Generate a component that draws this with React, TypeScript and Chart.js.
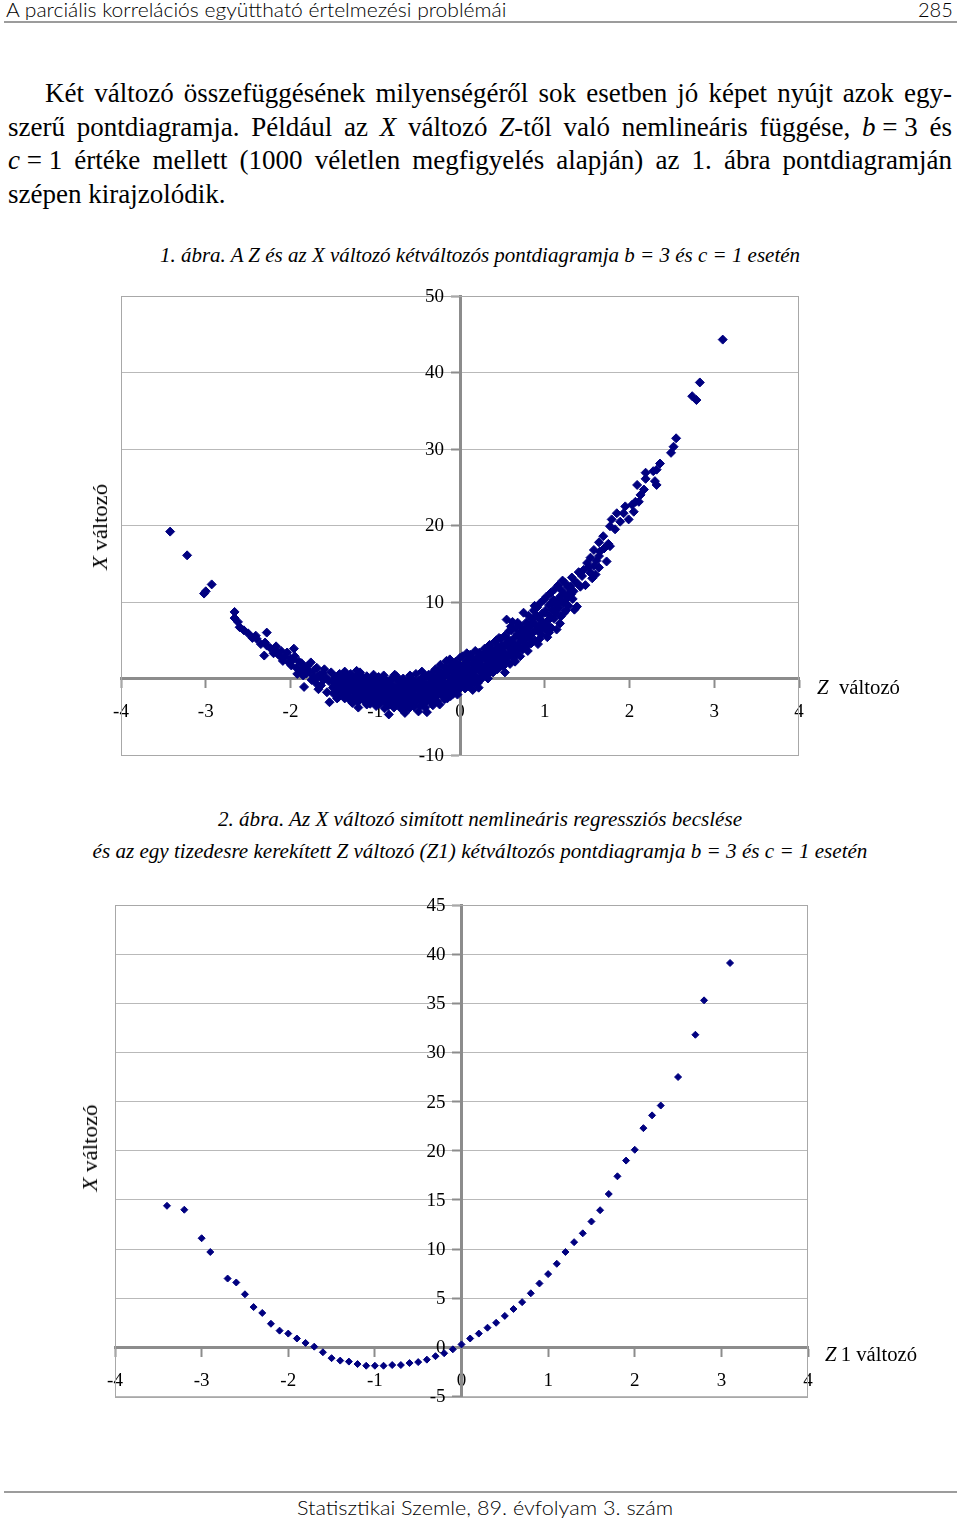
import React, { useEffect, useLayoutEffect, useRef } from "react";
import { Chart, registerables } from "chart.js";

Chart.register(...registerables);
Chart.defaults.font.family = "'Liberation Serif', 'Times New Roman', serif";

type Pt = [number, number];

// ---------- Figure 1: Z (horizontal) vs X (vertical), 1000 noisy observations ----------
const fig1LeftTail: Pt[] = [
  [-3.42, 19.2], [-3.22, 16.1], [-3.02, 11.1], [-3.0, 11.4], [-2.93, 12.3],
  [-2.66, 8.7], [-2.66, 7.9], [-2.62, 7.4], [-2.6, 6.7], [-2.55, 6.3],
  [-2.5, 5.9], [-2.45, 5.3], [-2.41, 5.6], [-2.4, 5.2], [-2.35, 4.5],
  [-2.3, 4.7], [-2.31, 3.0], [-2.28, 6.0], [-2.28, 4.3], [-2.24, 4.0],
  [-2.2, 3.3], [-2.17, 4.2], [-2.17, 3.6], [-2.14, 3.1], [-2.12, 2.9],
  [-2.09, 2.3], [-2.07, 2.8], [-2.04, 3.4], [-2.02, 2.1], [-1.99, 1.7],
  [-1.97, 2.5], [-1.96, 3.9], [-1.95, 2.9], [-1.93, 1.4], [-1.9, 2.2],
  [-1.88, 1.1], [-1.87, 2.0], [-1.85, 0.4], [-1.84, -1.1], [-1.81, 0.7],
  [-1.8, 1.6], [-1.78, 0.9], [-1.76, 2.1], [-1.75, -0.2], [-1.73, 0.3],
  [-1.72, 1.1], [-1.7, -0.6], [-1.69, 1.4], [-1.67, -1.4], [-1.66, 0.5],
  [-1.64, -0.9], [-1.62, 0.7], [-1.6, 1.2], [-1.58, 0.1], [-1.57, -1.8],
  [-1.55, -0.3], [-1.54, -3.1], [-1.52, 0.8], [-1.61, -0.2], [-1.68, 0.2],
  [-1.83, 1.4], [-1.92, 0.6], [-2.0, 2.6], [-2.11, 3.6],
];

const fig1Trough: Pt[] = [
  [-1.5, -1.2], [-1.5, -0.4], [-1.49, -2.0], [-1.48, -0.6], [-1.48, -1.1],
  [-1.47, 0.2], [-1.46, -1.5], [-1.45, -0.9], [-1.44, 0.3], [-1.44, -0.3],
  [-1.43, -2.4], [-1.42, 0.6], [-1.41, -0.2], [-1.4, -1.4], [-1.39, -1.8],
  [-1.38, -0.7], [-1.37, 0.4], [-1.36, -2.6], [-1.36, 0.9], [-1.35, -1.2],
  [-1.34, 0.5], [-1.34, -1.6], [-1.33, -0.1], [-1.32, -2.0], [-1.31, -0.9],
  [-1.3, 0.1], [-1.3, -2.8], [-1.29, 0.6], [-1.28, -1.5], [-1.27, -0.4],
  [-1.26, -2.7], [-1.26, -0.1], [-1.25, -2.3], [-1.24, -1.0], [-1.23, 0.2],
  [-1.22, 1.0], [-1.22, -2.6], [-1.21, -1.9], [-1.2, -0.6], [-1.2, -3.8],
  [-1.19, -2.9], [-1.18, -1.3], [-1.18, 0.8], [-1.17, 0.4], [-1.16, -2.2],
  [-1.15, -0.3], [-1.14, -1.4], [-1.14, -2.0], [-1.13, -1.7], [-1.12, -3.0],
  [-1.12, -0.5], [-1.11, -0.8], [-1.1, 0.3], [-1.1, -3.4], [-1.09, -2.5],
  [-1.08, -1.2], [-1.07, -0.2], [-1.06, -3.3], [-1.05, -1.8], [-1.05, 0.0],
  [-1.04, -0.6], [-1.03, -2.7], [-1.02, 0.5], [-1.01, -1.4], [-1.0, -2.2],
  [-1.0, -0.4], [-0.99, -3.6], [-0.98, -1.0], [-0.97, -2.9], [-0.96, 0.2],
  [-0.95, -1.9], [-0.95, -2.5], [-0.94, -3.2], [-0.93, -0.7], [-0.92, -2.4],
  [-0.92, -0.1], [-0.91, -1.4], [-0.9, 0.4], [-0.89, -3.9], [-0.88, -2.0],
  [-0.88, -3.0], [-0.87, -0.3], [-0.86, -2.8], [-0.85, -1.2], [-0.84, -4.7],
  [-0.83, -0.9], [-0.82, -3.4], [-0.81, -1.7], [-0.8, 0.1], [-0.8, -1.3],
  [-0.79, -2.5], [-0.78, -3.8], [-0.77, -1.1], [-0.77, 0.5], [-0.76, -2.1],
  [-0.75, 0.3], [-0.74, -3.0], [-0.73, -1.5], [-0.72, -0.5], [-0.72, -3.2],
  [-0.71, -2.6], [-0.7, -3.6], [-0.69, -1.0], [-0.69, -4.0], [-0.68, -2.2],
  [-0.67, 0.0], [-0.66, -1.8], [-0.65, -4.5], [-0.64, -2.9], [-0.64, -1.0],
  [-0.63, -0.8], [-0.62, -3.3], [-0.61, -1.4], [-0.6, -2.4], [-0.6, -3.9],
  [-0.59, 0.4], [-0.58, -1.1], [-0.57, -3.0], [-0.56, -0.2], [-0.56, -2.8],
  [-0.55, -2.0], [-0.54, -3.7], [-0.53, -1.3], [-0.52, 0.6], [-0.51, -2.6],
  [-0.5, -0.7],
  [-1.49, -0.9], [-1.47, -1.7], [-1.45, -2.6], [-1.42, -1.3], [-1.4, -0.5],
  [-1.38, -2.2], [-1.35, -0.4], [-1.33, -1.5], [-1.31, -2.4], [-1.29, -1.1],
  [-1.27, -3.2], [-1.25, -0.8], [-1.23, -1.6], [-1.21, -3.0], [-1.19, -0.1],
  [-1.17, -2.5], [-1.15, -1.0], [-1.13, -2.4], [-1.11, -1.5], [-1.09, -0.3],
  [-1.07, -2.1], [-1.05, -2.9], [-1.03, -1.0], [-1.01, -3.1], [-0.99, -0.5],
  [-0.97, -1.5], [-0.96, -3.3], [-0.94, -1.1], [-0.93, -2.0], [-0.91, -2.9],
  [-0.9, -0.9], [-0.89, -1.6], [-0.87, -2.4], [-0.86, -0.7], [-0.85, -3.6],
  [-0.83, -1.9], [-0.82, -0.4], [-0.81, -2.9], [-0.79, -1.0], [-0.78, -2.0],
  [-0.76, -3.3], [-0.75, -1.3], [-0.74, -0.2], [-0.73, -2.4], [-0.71, -0.9],
  [-0.7, -1.8], [-0.68, -3.1], [-0.67, -1.4], [-0.66, -0.5], [-0.65, -2.5],
  [-0.63, -3.7], [-0.62, -1.8], [-0.61, -0.3], [-0.59, -2.2], [-0.58, -3.4],
  [-0.57, -0.9], [-0.55, -1.5], [-0.54, -0.4], [-0.53, -2.3], [-0.52, -3.1],
  [-0.51, -1.1],
];

const fig1Center: Pt[] = [
  [-0.49, -4.3], [-0.48, -1.6], [-0.47, -0.3], [-0.46, -2.7], [-0.45, 0.9],
  [-0.45, -1.9], [-0.44, -1.2], [-0.43, -3.3], [-0.42, -0.6], [-0.41, -2.1],
  [-0.4, 0.3], [-0.4, -3.0], [-0.39, -4.4], [-0.38, -1.5], [-0.37, -2.8],
  [-0.36, 0.0], [-0.35, -0.9], [-0.35, -1.7], [-0.34, -2.3], [-0.33, 0.7],
  [-0.33, -0.4], [-0.32, -3.5], [-0.31, -1.3], [-0.3, -0.2], [-0.3, -2.7],
  [-0.29, 1.2], [-0.28, -2.4], [-0.27, -0.7], [-0.26, -1.8], [-0.26, 1.0],
  [-0.25, 0.5], [-0.24, -3.4], [-0.23, 1.8], [-0.22, -1.0], [-0.21, -2.2],
  [-0.21, -0.3], [-0.2, 0.1], [-0.19, -0.5], [-0.19, -1.3], [-0.18, 1.4],
  [-0.17, -1.6], [-0.16, 2.3], [-0.15, -2.6], [-0.15, 1.0], [-0.14, 0.3],
  [-0.13, -0.9], [-0.12, 2.5], [-0.11, -1.8], [-0.11, -2.3], [-0.1, 0.9],
  [-0.09, -0.3], [-0.08, 1.7], [-0.07, -1.2], [-0.06, 0.5], [-0.06, -0.9],
  [-0.05, 2.2], [-0.04, -0.6], [-0.03, 1.3], [-0.02, -1.5], [-0.02, 1.0],
  [-0.01, 0.2], [0.0, 2.7], [0.01, -1.0], [0.02, 0.6], [0.03, 2.9],
  [0.04, -0.3], [0.05, 1.5], [0.05, -0.9], [0.06, -1.3], [0.07, 0.9],
  [0.08, 2.3], [0.08, 3.3], [0.09, -0.5], [0.1, 1.8], [0.11, 0.2],
  [0.12, 3.1], [0.12, 0.0], [0.13, -0.8], [0.14, 1.2], [0.15, 2.6],
  [0.15, -1.5], [0.16, 0.5], [0.17, -0.6], [0.18, 3.6], [0.19, 1.6],
  [0.19, -0.4], [0.2, 0.0], [0.21, 2.2], [0.22, 1.0], [0.22, -1.2],
  [0.23, 3.4], [0.24, -0.2], [0.25, 1.9], [0.26, 0.8], [0.26, 0.3],
  [0.27, 2.9], [0.28, 1.4], [0.29, 3.9], [0.3, 0.4], [0.31, 2.4],
  [0.32, 1.1], [0.33, 3.3], [0.33, 0.0], [0.34, 2.0], [0.35, 4.4],
  [0.36, 0.9], [0.36, 3.9], [0.37, 2.8], [0.38, 1.7], [0.39, 3.7],
  [0.4, 2.3], [0.4, 1.1], [0.41, 4.8], [0.42, 1.4], [0.43, 3.1],
  [0.43, 5.0], [0.44, 2.6], [0.45, 4.2], [0.46, 1.9], [0.47, 3.5],
  [0.47, 1.5], [0.48, 5.2], [0.49, 2.8], [0.5, 4.0],
  [-0.49, -2.3], [-0.48, -0.2], [-0.47, -3.6], [-0.46, -1.0], [-0.44, -2.5],
  [-0.43, 0.2], [-0.42, -1.7], [-0.41, -3.8], [-0.39, -0.8], [-0.38, -2.6],
  [-0.37, 0.5], [-0.36, -1.9], [-0.34, -3.1], [-0.32, -1.0], [-0.31, 0.2],
  [-0.29, -1.9], [-0.28, -0.4], [-0.27, -3.0], [-0.25, -1.4], [-0.24, 0.3],
  [-0.23, -2.0], [-0.22, 0.8], [-0.2, -1.6], [-0.18, -2.7], [-0.17, 0.5],
  [-0.16, -0.8], [-0.14, -1.9], [-0.13, 1.5], [-0.12, -0.4], [-0.1, -1.3],
  [-0.09, 1.9], [-0.08, -2.0], [-0.07, 0.3], [-0.05, -1.0], [-0.04, 1.1],
  [-0.03, -2.1], [-0.01, 1.8], [0.02, -0.5], [0.03, 1.6], [0.04, 0.3],
  [0.06, 2.0], [0.07, -0.1], [0.09, 1.1], [0.1, -1.0], [0.11, 2.6],
  [0.13, 0.5], [0.14, -0.3], [0.16, 2.0], [0.17, 1.0], [0.18, 0.2],
  [0.2, 2.7], [0.21, -0.6], [0.23, 1.5], [0.24, 2.4], [0.25, 0.2],
  [0.27, 1.2], [0.28, 3.1], [0.29, 0.7], [0.31, 1.6], [0.32, 4.0],
  [0.34, 0.6], [0.35, 2.6], [0.37, 1.2], [0.38, 3.2], [0.39, 0.8],
  [0.41, 2.0], [0.42, 3.8], [0.44, 1.2], [0.45, 3.0], [0.46, 5.3],
  [0.48, 2.2], [0.49, 4.3],
];

const fig1Rise: Pt[] = [
  [0.51, 1.6], [0.52, 3.4], [0.53, 5.6], [0.53, 0.8], [0.54, 2.4],
  [0.55, 7.7], [0.56, 4.4], [0.57, 3.0], [0.57, 5.1], [0.58, 6.2],
  [0.59, 1.9], [0.6, 4.9], [0.61, 3.6], [0.61, 6.3], [0.62, 7.4],
  [0.63, 2.6], [0.64, 5.3], [0.65, 4.1], [0.65, 2.2], [0.66, 6.6],
  [0.67, 3.2], [0.68, 5.8], [0.69, 4.6], [0.7, 7.0], [0.71, 2.9],
  [0.72, 6.1], [0.72, 4.0], [0.73, 5.0], [0.74, 3.8], [0.75, 8.6],
  [0.76, 5.6], [0.77, 4.3], [0.78, 7.3], [0.79, 6.2], [0.8, 3.6],
  [0.8, 5.4], [0.81, 8.2], [0.82, 5.2], [0.83, 6.8], [0.84, 4.6],
  [0.85, 7.8], [0.86, 6.0], [0.87, 8.9], [0.88, 5.0], [0.88, 9.5],
  [0.89, 7.1], [0.9, 6.4], [0.91, 9.3], [0.92, 4.5], [0.93, 8.0],
  [0.94, 6.9], [0.95, 9.9], [0.95, 7.7], [0.96, 5.8], [0.97, 8.5],
  [0.98, 7.3], [0.99, 10.3], [1.0, 6.5], [1.01, 8.9], [1.02, 10.7],
  [1.03, 5.4], [1.04, 7.6], [1.05, 9.6], [1.05, 6.0], [1.06, 8.2],
  [1.07, 11.2], [1.08, 6.6], [1.09, 9.0], [1.1, 10.3], [1.11, 7.8],
  [1.12, 11.7], [1.12, 9.8], [1.13, 8.6], [1.14, 6.4], [1.15, 10.0],
  [1.16, 12.2], [1.17, 9.2], [1.18, 10.7], [1.18, 7.2], [1.19, 8.1],
  [1.2, 11.5], [1.21, 12.8], [1.22, 9.8], [1.23, 11.0], [1.24, 12.5],
  [1.25, 8.9], [1.26, 10.4], [1.27, 12.0], [1.27, 10.8], [1.28, 9.5],
  [1.3, 12.0], [1.31, 11.0], [1.32, 13.2], [1.34, 11.4], [1.35, 9.0],
  [1.36, 12.6], [1.38, 9.4], [1.38, 12.5], [1.4, 13.9], [1.42, 12.0],
  [1.44, 13.4], [1.46, 14.2], [1.48, 12.2], [1.5, 15.1],
  [0.52, 2.0], [0.54, 4.6], [0.56, 2.8], [0.58, 4.0], [0.6, 6.8],
  [0.62, 3.1], [0.64, 4.4], [0.66, 3.6], [0.68, 7.3], [0.7, 4.0],
  [0.71, 5.4], [0.73, 6.6], [0.75, 4.8], [0.77, 6.4], [0.79, 4.2],
  [0.82, 7.0], [0.84, 5.8], [0.86, 7.3], [0.9, 8.2], [0.92, 6.2],
  [0.94, 5.2], [0.97, 6.6], [1.0, 8.6], [1.03, 7.0], [1.08, 9.9],
  [1.11, 8.8], [1.14, 9.6], [1.2, 10.1], [1.23, 8.6], [1.29, 11.2],
  [1.33, 10.4],
];

const fig1RightTail: Pt[] = [
  [1.52, 14.6], [1.54, 15.8], [1.54, 13.8], [1.56, 13.1], [1.58, 16.8],
  [1.58, 14.7], [1.6, 13.6], [1.61, 15.4], [1.64, 17.8], [1.64, 16.0],
  [1.64, 14.5], [1.65, 16.6], [1.69, 18.6], [1.7, 17.0], [1.73, 15.3],
  [1.75, 17.6], [1.77, 17.3], [1.77, 19.9], [1.79, 20.8], [1.83, 19.5],
  [1.85, 21.6], [1.89, 20.5], [1.93, 21.6], [1.95, 22.5], [1.99, 20.8],
  [2.03, 22.7], [2.05, 21.8], [2.07, 23.1], [2.09, 25.3], [2.11, 23.1],
  [2.13, 24.0], [2.17, 24.7], [2.19, 26.9], [2.19, 26.1], [2.28, 27.1],
  [2.3, 25.8], [2.32, 25.3], [2.32, 27.3], [2.36, 28.1], [2.49, 29.5],
  [2.52, 30.3], [2.55, 31.4], [2.74, 36.9], [2.79, 36.4], [2.83, 38.7],
  [3.1, 44.3],
];

const fig1Y = { min: -10, max: 50, step: 10 };

// ---------- Figure 2: smoothed regression estimate vs Z rounded to one decimal ----------
const fig2Z = [
  -3.4, -3.2, -3.0, -2.9, -2.7, -2.6, -2.5, -2.4, -2.3, -2.2, -2.1, -2.0,
  -1.9, -1.8, -1.7, -1.6, -1.5, -1.4, -1.3, -1.2, -1.1, -1.0, -0.9, -0.8,
  -0.7, -0.6, -0.5, -0.4, -0.3, -0.2, -0.1, 0.0, 0.1, 0.2, 0.3, 0.4, 0.5,
  0.6, 0.7, 0.8, 0.9, 1.0, 1.1, 1.2, 1.3, 1.4, 1.5, 1.6, 1.7, 1.8, 1.9,
  2.0, 2.1, 2.2, 2.3, 2.5, 2.7, 2.8, 3.1,
];
const fig2X = [
  14.4, 14.0, 11.1, 9.7, 7.0, 6.6, 5.4, 4.1, 3.5, 2.4, 1.7, 1.4,
  0.9, 0.45, 0.07, -0.5, -1.1, -1.35, -1.45, -1.7, -1.87, -1.87, -1.87, -1.8,
  -1.8, -1.6, -1.5, -1.25, -0.9, -0.6, -0.2, 0.3, 0.9, 1.4, 2.0, 2.5, 3.2,
  3.9, 4.6, 5.5, 6.5, 7.45, 8.5, 9.7, 10.7, 11.6, 12.8, 13.95, 15.6, 17.4, 19.0,
  20.1, 22.3, 23.6, 24.6, 27.5, 31.8, 35.3, 39.1,
];
const fig2Y = { min: -5, max: 45, step: 5 };

const zRange = { min: -4, max: 4, step: 1 };

const NAVY = "#000080";
const AXIS_GRAY = "#8c8c8c";
const GRID_GRAY = "#b9b9b9";
const SERIF = "'Liberation Serif', 'Times New Roman', serif";
const ROUND = "Lato, 'DejaVu Sans', sans-serif";

const framePlugin = {
  id: "frame",
  beforeDatasetsDraw(chart: any) {
    const { ctx, chartArea: a } = chart;
    ctx.save();
    ctx.strokeStyle = "#a8a8a8";
    ctx.lineWidth = 1;
    ctx.strokeRect(
      Math.round(a.left) + 0.5,
      Math.round(a.top) + 0.5,
      Math.round(a.right - a.left) - 1,
      Math.round(a.bottom - a.top)
    );
    ctx.restore();
  },
};

// y tick labels sit left of the centred axis, beyond the tick marks
const yLabelPlugin = {
  id: "yLabels",
  beforeDatasetsDraw(chart: any) {
    const { ctx } = chart;
    const ys = chart.scales.y;
    const ax = chart.scales.x.getPixelForValue(0);
    ctx.save();
    ctx.font = `19px ${SERIF}`;
    ctx.fillStyle = "#000";
    ctx.textAlign = "right";
    ctx.textBaseline = "middle";
    ys.ticks.forEach((t: any) => {
      ctx.fillText(String(t.label ?? t.value), ax - 16, ys.getPixelForValue(t.value) + 1);
    });
    ctx.restore();
  },
};

type Box = { x: number; y: number; w: number; h: number };
type Area = { left: number; top: number; right: number; bottom: number };

function ScatterChart(props: {
  box: Box;
  area: Area;
  points: Pt[];
  y: { min: number; max: number; step: number };
  radius: number;
}) {
  const { box, area, points, y, radius } = props;
  const ref = useRef<HTMLCanvasElement>(null);
  useEffect(() => {
    const canvas = ref.current!;
    const chart = new Chart(canvas, {
      type: "scatter",
      data: {
        datasets: [
          {
            data: points.map(([px, py]) => ({ x: px, y: py })),
            pointStyle: "rectRot",
            pointRadius: radius,
            pointHoverRadius: radius,
            backgroundColor: NAVY,
            borderColor: NAVY,
            borderWidth: 1,
          },
        ],
      },
      options: {
        animation: false,
        responsive: false,
        maintainAspectRatio: false,
        events: [],
        layout: {
          padding: {
            left: area.left - box.x,
            top: area.top - box.y,
            right: box.x + box.w - area.right,
            bottom: box.y + box.h - area.bottom,
          },
        },
        plugins: { legend: { display: false }, tooltip: { enabled: false } },
        scales: {
          x: {
            type: "linear",
            min: zRange.min,
            max: zRange.max,
            position: { y: 0 } as any,
            ticks: {
              stepSize: zRange.step,
              color: "#000",
              font: { family: SERIF, size: 19 },
              padding: 14,
              maxRotation: 0,
              autoSkip: false,
            },
            grid: {
              drawOnChartArea: false,
              drawTicks: true,
              tickLength: 8,
              tickColor: AXIS_GRAY,
              tickWidth: 2,
            },
            border: { display: true, color: AXIS_GRAY, width: 3 },
          },
          y: {
            type: "linear",
            min: y.min,
            max: y.max,
            position: { x: 0 } as any,
            ticks: {
              stepSize: y.step,
              display: false,
              autoSkip: false,
            },
            grid: {
              color: GRID_GRAY,
              lineWidth: 1,
              drawTicks: true,
              tickLength: 8,
              tickColor: AXIS_GRAY,
              tickWidth: 2,
            },
            border: { display: true, color: AXIS_GRAY, width: 3 },
          },
        },
      } as any,
      plugins: [framePlugin, yLabelPlugin],
    });
    return () => chart.destroy();
  }, []);
  return (
    <canvas
      ref={ref}
      width={box.w}
      height={box.h}
      style={{ position: "absolute", left: box.x, top: box.y, width: box.w, height: box.h }}
    />
  );
}

// Text placed by anchor point, optionally stretched/condensed to a target width
function Txt(props: {
  x: number;
  y: number;
  w?: number;
  size: number;
  family?: string;
  italic?: boolean;
  weight?: number;
  anchor?: "left" | "center";
  rotate?: boolean;
  children: React.ReactNode;
}) {
  const { x, y, w, size, family = SERIF, italic, weight = 400, anchor = "center", rotate } = props;
  const ref = useRef<HTMLSpanElement>(null);
  useLayoutEffect(() => {
    const el = ref.current;
    if (!el) return;
    const nat = el.offsetWidth;
    const s = w && nat ? w / nat : 1;
    if (anchor === "left") {
      el.style.transformOrigin = "0 50%";
      el.style.transform = `translate(0,-50%) scaleX(${s})`;
    } else {
      el.style.transformOrigin = "50% 50%";
      el.style.transform = `translate(-50%,-50%)${rotate ? " rotate(-90deg)" : ""} scaleX(${s})`;
    }
  }, []);
  return (
    <div style={{ position: "absolute", left: x, top: y, width: 0, height: 0 }}>
      <span
        ref={ref}
        style={{
          position: "absolute",
          left: 0,
          top: 0,
          display: "inline-block",
          whiteSpace: "nowrap",
          fontFamily: family,
          fontSize: size,
          fontStyle: italic ? "italic" : "normal",
          fontWeight: weight,
          lineHeight: 1,
          color: "#000",
        }}
      >
        {props.children}
      </span>
    </div>
  );
}

const lineStyle: React.CSSProperties = {
  position: "absolute",
  whiteSpace: "nowrap",
  textAlign: "justify",
  textAlignLast: "justify" as any,
  fontFamily: SERIF,
  fontSize: 27,
  lineHeight: "33.5px",
  color: "#000",
};

const TS = "\u2005"; // narrow, non-stretching space around "="

export default function App() {
  const fig1Points: Pt[] = [...fig1LeftTail, ...fig1Trough, ...fig1Center, ...fig1Rise, ...fig1RightTail];
  const fig2Points: Pt[] = fig2Z.map((z, i) => [z, fig2X[i]] as Pt);
  return (
    <div
      style={{
        position: "absolute",
        left: 0,
        top: 0,
        width: 960,
        height: 1521,
        background: "#fff",
        overflow: "hidden",
      }}
    >
      {/* header */}
      <Txt x={6} y={9} w={500} size={20} family={ROUND} weight={300} anchor="left">
        A parciális korrelációs együttható értelmezési problémái
      </Txt>
      <Txt x={918} y={9} w={35} size={20} family={ROUND} weight={300} anchor="left">
        285
      </Txt>
      <div style={{ position: "absolute", left: 4, top: 21, width: 953, height: 2, background: "#9c9c9c" }} />

      {/* paragraph */}
      <div style={{ ...lineStyle, left: 45, top: 77, width: 907, whiteSpace: "normal" }}>
        Két változó összefüggésének milyenségéről sok esetben jó képet nyújt azok egy-
      </div>
      <div style={{ ...lineStyle, left: 8, top: 110.5, width: 944, whiteSpace: "normal" }}>
        szerű pontdiagramja. Például az <i>X</i> változó <i>Z</i>-től való nemlineáris függése,{" "}
        <span style={{ whiteSpace: "nowrap" }}>
          <i>b</i>
          {TS}={TS}3
        </span>{" "}
        és
      </div>
      <div style={{ ...lineStyle, left: 8, top: 144, width: 944, whiteSpace: "normal" }}>
        <span style={{ whiteSpace: "nowrap" }}>
          <i>c</i>
          {TS}={TS}1
        </span>{" "}
        értéke mellett (1000 véletlen megfigyelés alapján) az 1. ábra pontdiagramján
      </div>
      <div style={{ ...lineStyle, textAlign: "left", textAlignLast: "left" as any, left: 8, top: 177.5 }}>
        szépen kirajzolódik.
      </div>

      {/* figure 1 */}
      <Txt x={480} y={255} w={640} size={20} italic>
        1. ábra. A Z és az X változó kétváltozós pontdiagramja b = 3 és c = 1 esetén
      </Txt>
      <ScatterChart
        box={{ x: 60, y: 270, w: 800, h: 520 }}
        area={{ left: 121, top: 296, right: 799, bottom: 755 }}
        points={fig1Points}
        y={fig1Y}
        radius={4.5}
      />
      <Txt x={100} y={527} w={86} size={20} rotate>
        <i>X</i> változó
      </Txt>
      <Txt x={817} y={686.5} w={83} size={20} anchor="left">
        <i>Z</i>
        {"\u00a0\u00a0"}változó
      </Txt>

      {/* figure 2 */}
      <Txt x={480} y={819} w={524} size={20} italic>
        2. ábra. Az X változó simított nemlineáris regressziós becslése
      </Txt>
      <Txt x={479.5} y={851} w={775} size={20} italic>
        és az egy tizedesre kerekített Z változó (Z1) kétváltozós pontdiagramja b = 3 és c = 1 esetén
      </Txt>
      <ScatterChart
        box={{ x: 60, y: 880, w: 800, h: 540 }}
        area={{ left: 115, top: 905, right: 808, bottom: 1396.5 }}
        points={fig2Points}
        y={fig2Y}
        radius={3.5}
      />
      <Txt x={90} y={1148} w={87} size={20} rotate>
        <i>X</i> változó
      </Txt>
      <Txt x={825} y={1354} w={92} size={20} anchor="left">
        <i>Z</i>
        {"\u2009"}1 változó
      </Txt>

      {/* footer */}
      <div style={{ position: "absolute", left: 4, top: 1491, width: 953, height: 2, background: "#9c9c9c" }} />
      <Txt x={485} y={1507} w={376} size={20} family={ROUND} weight={300}>
        Statisztikai Szemle, 89. évfolyam 3. szám
      </Txt>
    </div>
  );
}
